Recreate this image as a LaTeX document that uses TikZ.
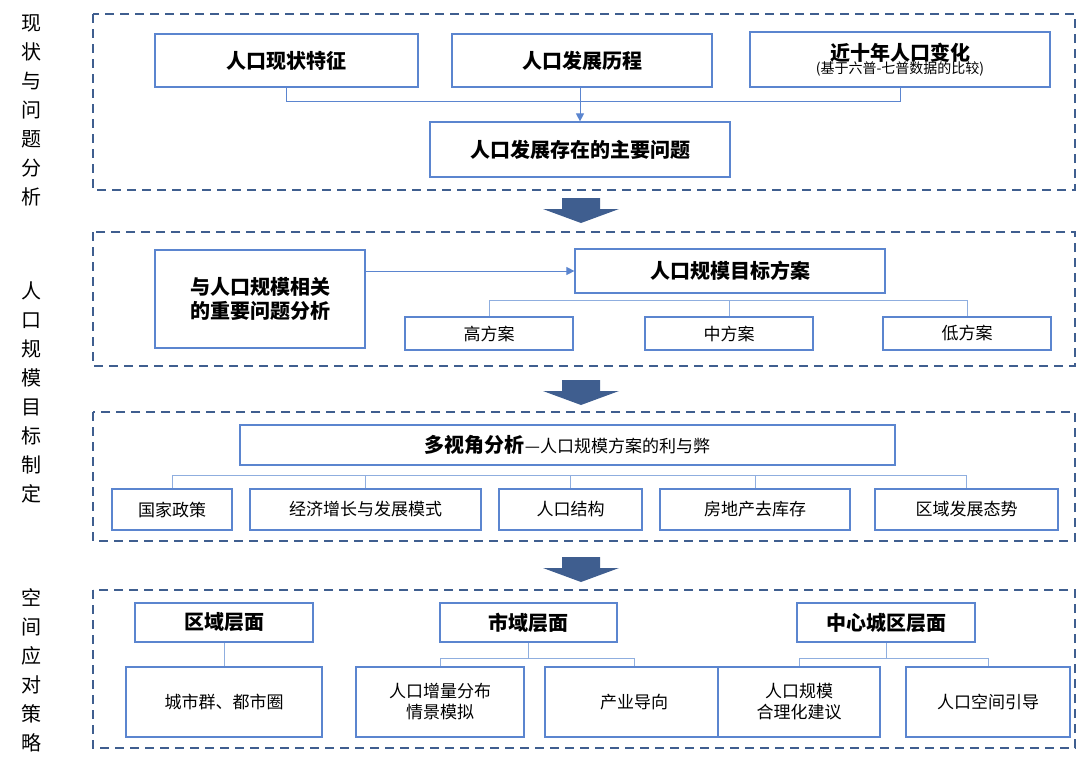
\documentclass[tikz,border=0pt]{standalone}
\usepackage{fontspec}
\setmainfont{Noto Sans CJK SC}
\usetikzlibrary{arrows.meta}
\definecolor{frameblue}{HTML}{3F5E8F}
\definecolor{boxblue}{HTML}{5B85CF}
\definecolor{lineblue}{HTML}{8FAEDF}
\begin{document}
\begin{tikzpicture}[x=1pt,y=-1pt,
  frame/.style={draw=frameblue,line width=2pt,dash pattern=on 9pt off 6pt},
  bx/.style={draw=boxblue,line width=1.2pt,fill=white,inner sep=0pt,align=center},
  hd/.style={bx,font=\fontsize{20}{24}\selectfont\bfseries},
  sb/.style={bx,font=\fontsize{17}{21}\selectfont},
  ln/.style={draw=lineblue,line width=1pt},
  arr/.style={draw=boxblue,line width=1pt,-{Triangle[length=8pt,width=8pt]}},
  side/.style={font=\fontsize{20}{29}\selectfont,align=center},
  bigarr/.style={fill=frameblue}]
\useasboundingbox (0,0) rectangle (1080,756);
% frames
\draw[frame] (93,14) rectangle (1075,190);
\draw[frame] (93,232) rectangle (1075,366);
\draw[frame] (93,412) rectangle (1075,541);
\draw[frame] (93,590) rectangle (1075,748);
% side labels
\node[side] (s1) at (31,110) {现\\状\\与\\问\\题\\分\\析};
\node[side] (s2) at (31,392) {人\\口\\规\\模\\目\\标\\制\\定};
\node[side] (s3) at (31,670) {空\\间\\应\\对\\策\\略};
% big arrows
\foreach \y/\n in {198/a1,380/a2,557/a3}{
  \fill[bigarr] (562,\y) -- (600,\y) -- (600,\y+11) -- (619,\y+11) -- (581,\y+25) -- (543,\y+11) -- (562,\y+11) -- cycle;
}
% section 1
\node[hd,minimum width=263,minimum height=53] (A) at (286.5,60.5) {人口现状特征};
\node[hd,minimum width=260,minimum height=53] (B) at (582,60.5) {人口发展历程};
\node[bx,minimum width=300,minimum height=55] (C) at (900,59.5) {{\fontsize{20}{24}\selectfont\bfseries 近十年人口变化}\\[-2pt]{\fontsize{14}{16}\selectfont (基于六普-七普数据的比较)}};
\node[hd,minimum width=300,minimum height=55] (D) at (580,149.5) {人口发展存在的主要问题};
\coordinate (j1) at (286.5,101);
\coordinate (j2) at (900,101);
\draw[ln,draw=boxblue] (A.south) -- (j1) -- (j2) -- (C.south);
\draw[arr] (B.south -| D.north) -- (D.north);
% section 2
\node[hd,minimum width=210,minimum height=98] (E) at (260,299) {与人口规模相关\\的重要问题分析};
\node[hd,minimum width=310,minimum height=44] (F) at (730,271) {人口规模目标方案};
\draw[arr] (E.east |- F.west) -- (F.west);
\node[sb,minimum width=168,minimum height=33] (G) at (489,333.5) {高方案};
\node[sb,minimum width=168,minimum height=33] (H) at (729,333.5) {中方案};
\node[sb,minimum width=168,minimum height=33] (I) at (967,333.5) {低方案};
\coordinate (b2l) at (489,300); \coordinate (b2r) at (967,300);
\draw[ln] (G.north) -- (b2l) -- (b2r) -- (I.north);
\draw[ln] (H.north) -- (H.north |- b2l);
% section 3
\node[bx,minimum width=655,minimum height=40] (J) at (567.5,445) {{\fontsize{20}{24}\selectfont\bfseries 多视角分析}{\fontsize{17}{21}\selectfont ---人口规模方案的利与弊}};
\node[sb,minimum width=120,minimum height=41] (K1) at (172,509.5) {国家政策};
\node[sb,minimum width=231,minimum height=41] (K2) at (365.5,509.5) {经济增长与发展模式};
\node[sb,minimum width=143,minimum height=41] (K3) at (570.5,509.5) {人口结构};
\node[sb,minimum width=190,minimum height=41] (K4) at (755,509.5) {房地产去库存};
\node[sb,minimum width=183,minimum height=41] (K5) at (966.5,509.5) {区域发展态势};
\coordinate (b3l) at (172,475); \coordinate (b3r) at (966.5,475);
\draw[ln] (K1.north) -- (b3l) -- (b3r) -- (K5.north);
\foreach \k in {K2,K3,K4} \draw[ln] (\k.north) -- (\k.north |- b3l);
% section 4
\node[hd,minimum width=178,minimum height=39] (L1) at (224,622.5) {区域层面};
\node[hd,minimum width=177,minimum height=39] (L2) at (528.5,622.5) {市域层面};
\node[hd,minimum width=178,minimum height=39] (L3) at (886,622.5) {中心城区层面};
\node[sb,minimum width=196,minimum height=70] (M1) at (224,702) {城市群、都市圈};
\node[sb,minimum width=168,minimum height=70] (M2) at (440,702) {人口增量分布\\情景模拟};
\node[sb,minimum width=178,minimum height=70] (M3) at (634,702) {产业导向};
\node[sb,minimum width=162,minimum height=70] (M4) at (799,702) {人口规模\\合理化建议};
\node[sb,minimum width=164,minimum height=70] (M5) at (988,702) {人口空间引导};
\draw[ln] (L1.south) -- (M1.north);
\coordinate (b4l) at (440,658); \coordinate (b4r) at (634,658);
\draw[ln] (M2.north) -- (b4l) -- (b4r) -- (M3.north);
\draw[ln] (L2.south) -- (L2.south |- b4l);
\coordinate (b5l) at (799,658); \coordinate (b5r) at (988,658);
\draw[ln] (M4.north) -- (b5l) -- (b5r) -- (M5.north);
\draw[ln] (L3.south) -- (L3.south |- b5l);
\end{tikzpicture}
\end{document}
